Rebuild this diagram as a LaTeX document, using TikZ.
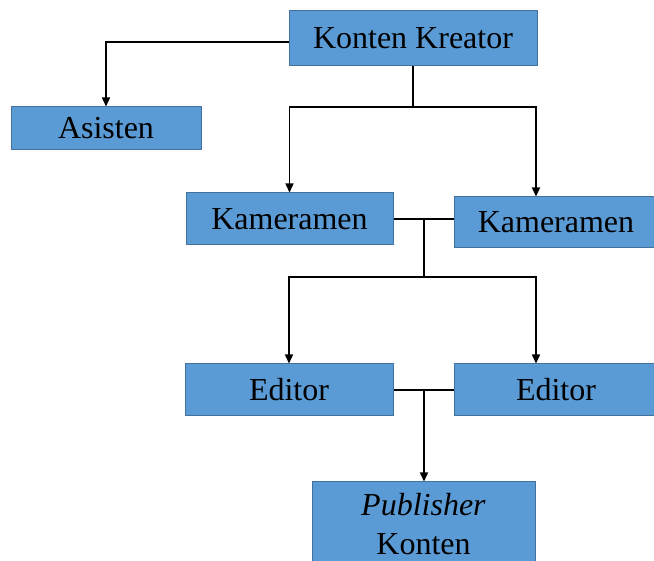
\documentclass[tikz,border=0pt]{standalone}
\usepackage{fontspec}
\setmainfont{Liberation Serif}
\usetikzlibrary{arrows.meta}
\definecolor{boxfill}{HTML}{5B9BD5}
\definecolor{boxline}{HTML}{41719C}
\tikzset{
  role/.style={draw=boxline, line width=1pt, fill=boxfill, inner sep=0pt,
    font=\fontsize{32}{39}\selectfont, text=black, align=center},
  link/.style={line width=1.5pt, black},
  arr/.style={link, -{Triangle[width=8pt,length=9pt]}}
}
\begin{document}
\begin{tikzpicture}[x=1pt,y=-1pt]
\useasboundingbox (0,0) rectangle (654,561);
\node[role, minimum width=248pt, minimum height=55pt] (kk) at (413,38.5) {Konten Kreator};
\node[role, minimum width=190pt, minimum height=43pt] (as) at (106,128.5) {Asisten};
\node[role, minimum width=207pt, minimum height=52pt] (ka1) at (289.5,219) {Kameramen};
\node[role, minimum width=204pt, minimum height=51pt] (ka2) at (556,222.5) {Kameramen};
\node[role, minimum width=208pt, minimum height=52pt] (ed1) at (289,390) {Editor};
\node[role, minimum width=204pt, minimum height=52pt] (ed2) at (556,390) {Editor};
\node[role, minimum width=223pt, minimum height=84pt] (pub) at (423.5,524) {\textit{Publisher}\\Konten};
% Konten Kreator -> Asisten
\coordinate (kkw) at (289,42);
\draw[arr] (kkw) -| (as.north);
% Konten Kreator -> Kameramen
\coordinate (j1) at (413,107);
\coordinate (j1r) at (536,107);
\draw[link] (kk.south) -- (j1);
\draw[arr] (j1) -| (ka1.north);
\draw[arr] (j1) -- (j1r) -- (j1r |- ka2.north);
% Kameramen -> Editor
\coordinate (j2) at (424,219);
\coordinate (j2b) at (424,277);
\coordinate (j2r) at (536,277);
\draw[link] (ka1.east) -- (ka1.east -| ka2.west);
\draw[link] (j2) -- (j2b);
\draw[arr] (j2b) -| (ed1.north);
\draw[arr] (j2b) -- (j2r) -- (j2r |- ed2.north);
% Editor -> Publisher
\coordinate (j3) at (424,390);
\draw[link] (ed1.east) -- (ed2.west);
\draw[arr] (j3) -- (j3 |- pub.north);
\end{tikzpicture}
\end{document}
